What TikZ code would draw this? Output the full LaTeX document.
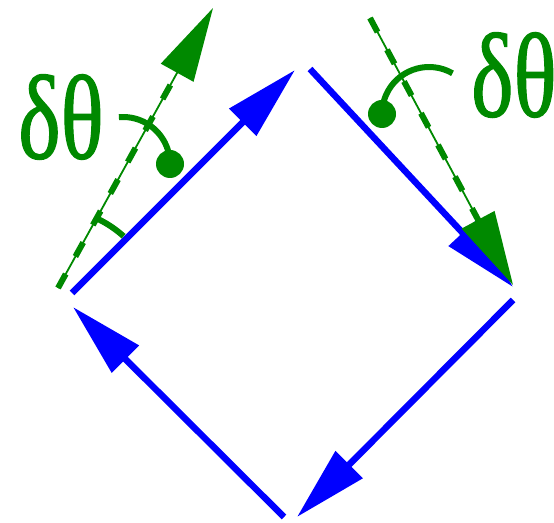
\documentclass[tikz,border=0pt]{standalone}
\usepackage{fontspec}
\setmainfont{Liberation Serif}
\newfontfamily\greekfont[FakeBold=1.2]{Liberation Serif}
\usetikzlibrary{arrows.meta}
\definecolor{dgreen}{RGB}{0,137,0}
\begin{document}
\begin{tikzpicture}[x=1pt,y=1pt,
  bluearrow/.style={blue, line width=6.5pt, -{Triangle[length=74pt,width=37pt]}},
  thinguide/.style={dgreen, line width=1.8pt, -{Triangle[length=74pt,width=37pt]}},
  dashguide/.style={dgreen, line width=6pt, dash pattern=on 16pt off 20pt, shorten >=72pt},
  anglearc/.style={dgreen, line width=6pt},
  greeklabel/.style={text=dgreen, font=\greekfont\fontsize{120}{120}\selectfont, inner sep=0pt, xscale=0.75}]
\useasboundingbox (0,0) rectangle (554,522);
% blue loop ends
\coordinate (a1) at (72,229);  \coordinate (a2) at (295,452);
\coordinate (b1) at (310,453); \coordinate (b2) at (513,235);
\coordinate (c1) at (513,222); \coordinate (c2) at (297,5);
\coordinate (d1) at (284,5);   \coordinate (d2) at (73,215);
\draw[bluearrow] (a1) -- (a2);
\draw[bluearrow] (b1) -- (b2);
\draw[bluearrow] (c1) -- (c2);
\draw[bluearrow] (d1) -- (d2);
% green guides
\coordinate (g1) at (58,234);  \coordinate (g2) at (213,514);
\coordinate (h1) at (370,504); \coordinate (h2) at (513,237);
\draw[thinguide] (g1) -- (g2);
\draw[dashguide] (g1) -- (g2);
\draw[thinguide] (h1) -- (h2);
\draw[dashguide] (h1) -- (h2);
% angle marks
\coordinate (ca) at (123,358);
\coordinate (cb) at (429,408);
\coordinate (cs) at (50,204);
\draw[anglearc] (ca) ++(95:47) arc[start angle=95, end angle=3, radius=47];
\fill[dgreen] (ca) ++(0:47) circle (14);
\draw[anglearc] (cb) ++(60:47) arc[start angle=60, end angle=177, radius=47];
\fill[dgreen] (cb) ++(180:47) circle (14);
\draw[anglearc] (cs) ++(65:110) arc[start angle=65, end angle=48, radius=110];
% labels
\node[greeklabel] (t1) at (61,405) {δθ};
\node[greeklabel, anchor=west] (t2) at (471,447) {δθ};
\end{tikzpicture}
\end{document}
